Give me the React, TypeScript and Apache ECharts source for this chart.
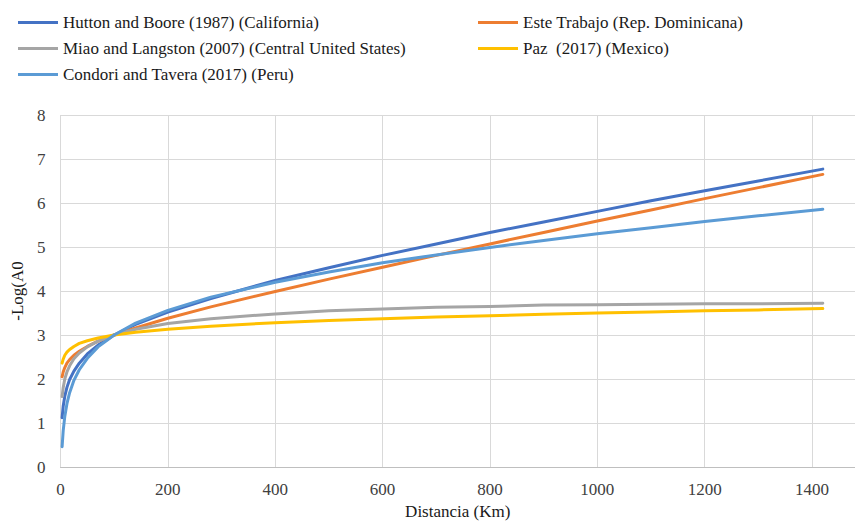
import React, { useEffect, useRef } from "react";
import * as echarts from "echarts";

const distances = [3, 5, 8, 12, 17, 25, 35, 50, 70, 100, 140, 200, 280, 400, 500, 600, 700, 800, 900, 1000, 1100, 1200, 1300, 1420];

const hutton = [1.12, 1.38, 1.61, 1.81, 1.99, 2.18, 2.36, 2.57, 2.77, 3.0, 3.24, 3.52, 3.83, 4.24, 4.53, 4.81, 5.07, 5.33, 5.57, 5.81, 6.05, 6.28, 6.5, 6.77];
const este = [2.05, 2.16, 2.26, 2.36, 2.44, 2.54, 2.63, 2.74, 2.86, 3.0, 3.16, 3.38, 3.64, 3.99, 4.27, 4.54, 4.81, 5.07, 5.33, 5.59, 5.84, 6.1, 6.35, 6.65];
const miao = [1.6, 1.8, 2.0, 2.16, 2.3, 2.46, 2.59, 2.73, 2.86, 3.0, 3.13, 3.26, 3.37, 3.48, 3.55, 3.59, 3.63, 3.65, 3.68, 3.69, 3.7, 3.71, 3.71, 3.72];
const paz = [2.36, 2.45, 2.54, 2.61, 2.67, 2.74, 2.81, 2.87, 2.93, 3.0, 3.06, 3.13, 3.2, 3.28, 3.33, 3.37, 3.41, 3.44, 3.47, 3.5, 3.52, 3.55, 3.57, 3.6];
const condori = [0.46, 0.82, 1.15, 1.44, 1.69, 1.97, 2.21, 2.47, 2.73, 3.0, 3.27, 3.56, 3.86, 4.2, 4.43, 4.64, 4.82, 4.99, 5.15, 5.3, 5.44, 5.58, 5.71, 5.86];

const seriesNames = [
  "Hutton and Boore (1987) (California)",
  "Este Trabajo (Rep. Dominicana)",
  "Miao and Langston (2007) (Central United States)",
  "Paz  (2017) (Mexico)",
  "Condori and Tavera (2017) (Peru)",
];
const seriesValues = [hutton, este, miao, paz, condori];
const colors = ["#4472C4", "#ED7D31", "#A5A5A5", "#FFC000", "#5B9BD5"];

const FONT = "Liberation Serif, Times New Roman, serif";

export default function App() {
  const ref = useRef<HTMLDivElement>(null);
  useEffect(() => {
    document.body.style.margin = "0";
    if (!ref.current) return;
    const chart = echarts.init(ref.current, undefined, { renderer: "svg" });
    const legendPos = [
      { left: 18, top: 14 },
      { left: 478, top: 14 },
      { left: 18, top: 40 },
      { left: 478, top: 40 },
      { left: 18, top: 66 },
    ];
    chart.setOption({
      animation: false,
      backgroundColor: "#ffffff",
      color: colors,
      textStyle: { fontFamily: FONT },
      legend: seriesNames.map((n, i) => ({
        data: [n],
        left: legendPos[i].left,
        top: legendPos[i].top,
        icon: "rect",
        itemWidth: 40,
        itemHeight: 3,
        padding: 0,
        textStyle: { fontFamily: FONT, fontSize: 17, color: "#1a1a1a" },
        selectedMode: false,
      })),
      grid: { left: 60.5, right: 0, top: 115, bottom: 55, containLabel: false, outerBoundsMode: "none" },
      xAxis: {
        type: "value",
        min: 0,
        max: 1480,
        interval: 200,
        name: "Distancia (Km)",
        nameLocation: "middle",
        nameGap: 35,
        nameTextStyle: { fontFamily: FONT, fontSize: 17, color: "#1a1a1a" },
        axisLine: { show: true, lineStyle: { color: "#bfbfbf", width: 1 } },
        axisTick: { show: false },
        axisLabel: {
          fontFamily: FONT,
          fontSize: 17,
          color: "#404040",
          margin: 14,
          showMaxLabel: false,
          formatter: (v: number) => String(v),
        },
        splitLine: { show: true, showMaxLine: false, lineStyle: { color: "#d9d9d9", width: 1 } },
      },
      yAxis: {
        type: "value",
        min: 0,
        max: 8,
        interval: 1,
        name: "-Log(A0",
        nameLocation: "middle",
        nameGap: 32,
        nameRotate: 90,
        nameTextStyle: { fontFamily: FONT, fontSize: 17, color: "#1a1a1a" },
        axisLine: { show: false },
        axisTick: { show: false },
        axisLabel: { fontFamily: FONT, fontSize: 17, color: "#404040", margin: 15 },
        splitLine: { show: true, lineStyle: { color: "#d9d9d9", width: 1 } },
      },
      series: seriesNames.map((n, i) => ({
        name: n,
        type: "line",
        data: distances.map((d, j) => [d, seriesValues[i][j]]),
        showSymbol: false,
        symbol: "none",
        smooth: false,
        lineStyle: { width: 3, color: colors[i], join: "round", cap: "round" },
        itemStyle: { color: colors[i] },
        z: 2 + i,
      })),
    });
    return () => chart.dispose();
  }, []);
  return <div ref={ref} style={{ width: 855, height: 522, position: "absolute", left: 0, top: 0 }} />;
}
